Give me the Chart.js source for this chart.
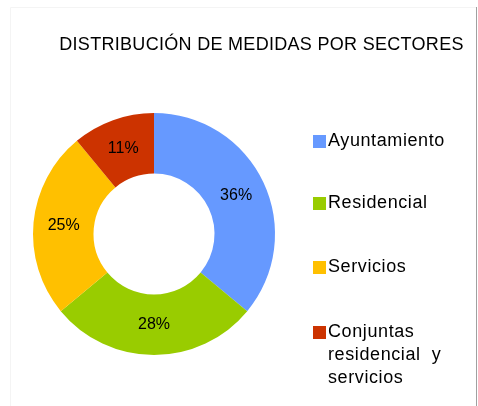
<!DOCTYPE html>
<html>
<head>
<meta charset="utf-8">
<script src="https://cdn.jsdelivr.net/npm/chart.js@4.4.1/dist/chart.umd.min.js"></script>
<style>
html,body{margin:0;padding:0;background:#fff;}
#wrap{position:relative;width:478px;height:406px;}
</style>
</head>
<body>
<div id="wrap"><canvas id="c" width="478" height="406"></canvas></div>
<script>
const title = "DISTRIBUCIÓN DE MEDIDAS POR SECTORES";
const categories = ["Ayuntamiento", "Residencial", "Servicios", "Conjuntas residencial y servicios"];
const legendLines = [["Ayuntamiento"], ["Residencial"], ["Servicios"], ["Conjuntas", "residencial  y", "servicios"]];
const values = [36, 28, 25, 11];
const colors = ["#6699FF", "#99CC00", "#FFC000", "#CC3300"];

const FONT = "'Liberation Sans', Arial, sans-serif";

const framePlugin = {
  id: 'frame',
  beforeDraw(chart) {
    const ctx = chart.ctx;
    ctx.save();
    ctx.fillStyle = '#fff';
    ctx.fillRect(0, 0, chart.width, chart.height);
    ctx.strokeStyle = '#f4f4f4';
    ctx.lineWidth = 1;
    ctx.beginPath();
    ctx.moveTo(10.5, 406);
    ctx.lineTo(10.5, 7.5);
    ctx.lineTo(476, 7.5);
    ctx.stroke();
    ctx.strokeStyle = '#a0a0a0';
    ctx.beginPath();
    ctx.moveTo(476.5, 7);
    ctx.lineTo(476.5, 406);
    ctx.stroke();
    ctx.restore();
  }
};

const textPlugin = {
  id: 'texts',
  afterDraw(chart) {
    const ctx = chart.ctx;
    ctx.save();
    // title
    ctx.fillStyle = '#000';
    ctx.font = "18px " + FONT;
    ctx.letterSpacing = "0.3px";
    ctx.textBaseline = 'middle';
    ctx.textAlign = 'center';
    ctx.fillText(title, 261.5, 45);
    // data labels
    const meta = chart.getDatasetMeta(0);
    ctx.font = "16px " + FONT;
    ctx.letterSpacing = "0px";
    meta.data.forEach((arc, i) => {
      const p = arc.tooltipPosition();
      ctx.fillText(values[i] + "%", p.x, p.y);
    });
    // legend
    ctx.textAlign = 'left';
    ctx.font = "18px " + FONT;
    ctx.letterSpacing = "0.6px";
    const ys = [141, 203, 267, 332];
    legendLines.forEach((lines, i) => {
      ctx.fillStyle = colors[i];
      ctx.fillRect(313, ys[i] - 6, 13, 13);
      ctx.fillStyle = '#000';
      lines.forEach((ln, j) => {
        ctx.fillText(ln, 328, ys[i] + j * 23);
      });
    });
    ctx.restore();
  }
};

new Chart(document.getElementById('c'), {
  type: 'doughnut',
  data: {
    labels: categories,
    datasets: [{
      data: values,
      backgroundColor: colors,
      borderWidth: 0,
      hoverOffset: 0
    }]
  },
  options: {
    responsive: false,
    animation: false,
    cutout: '50%',
    layout: { padding: { left: 33, right: 203, top: 113, bottom: 51 } },
    plugins: {
      legend: { display: false },
      tooltip: { enabled: false },
      title: { display: false }
    }
  },
  plugins: [framePlugin, textPlugin]
});
</script>
</body>
</html>
